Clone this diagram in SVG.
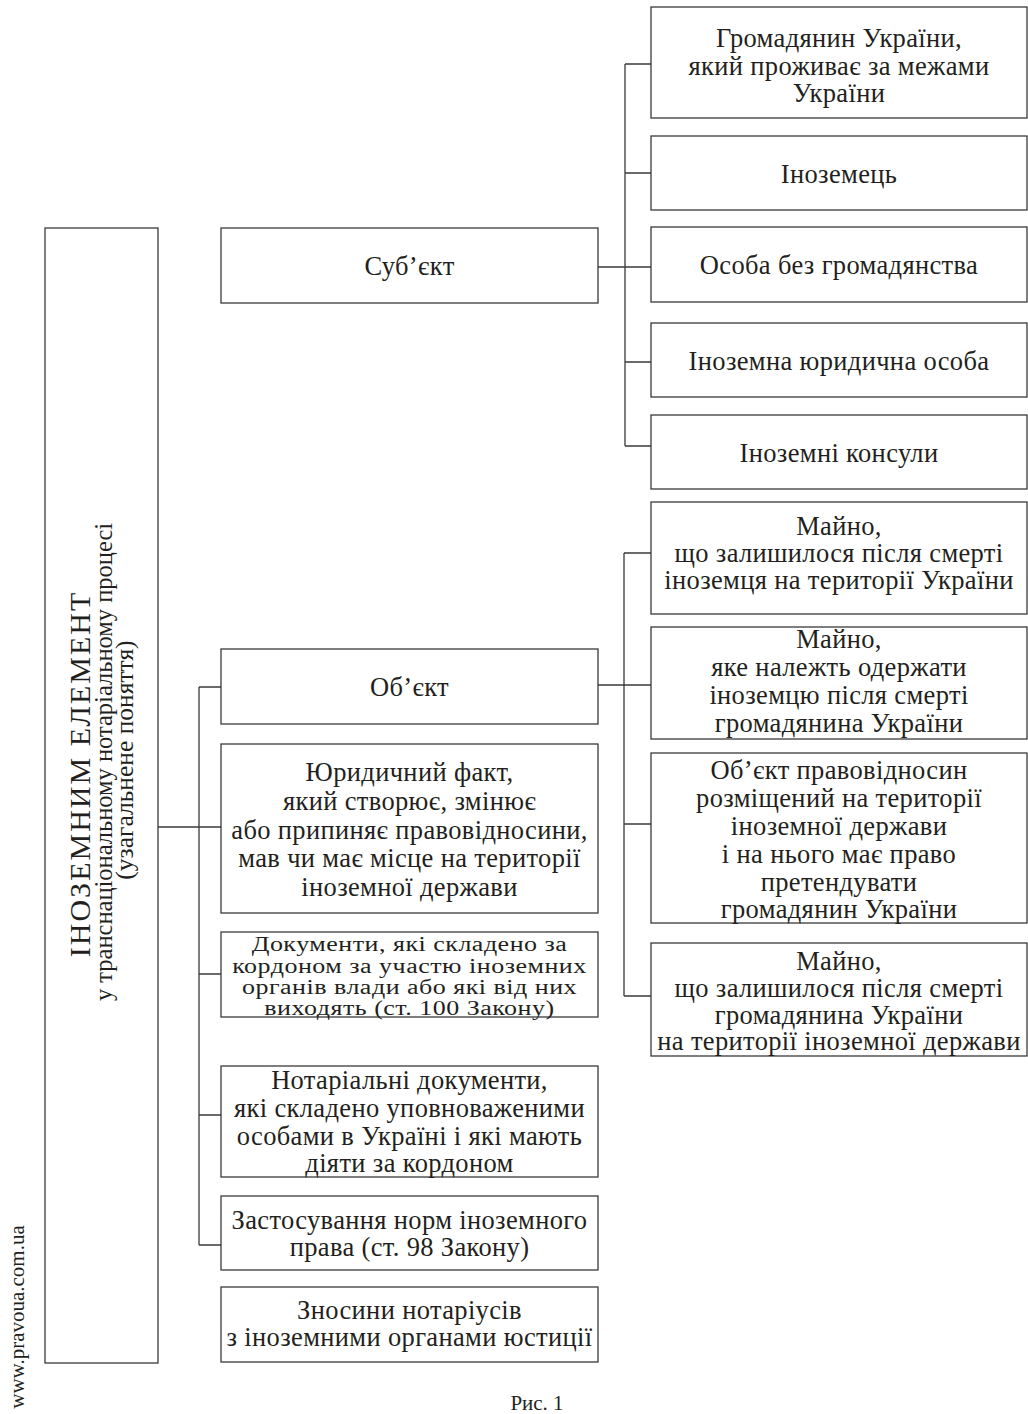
<svg xmlns="http://www.w3.org/2000/svg" width="1028" height="1414" viewBox="0 0 1028 1414">
<style>
.box{fill:#fff;stroke:#3a3a3a;stroke-width:1.3}
.ln{fill:none;stroke:#3a3a3a;stroke-width:1.3}
text{font-family:"Liberation Serif","DejaVu Serif",serif;fill:#231f20;text-anchor:middle}
.t{font-size:26.5px;letter-spacing:0.35px}
.s{font-size:26px;letter-spacing:0.5px}
</style>
<rect width="1028" height="1414" fill="#fff"/>
<g id="connectors">
<path class="ln" d="M598 267H651M625 64V446M625 64H651M625 173H651M625 362H651M625 446H651"/>
<path class="ln" d="M598 685H651M624 553V996M624 553H651M624 824H651M624 996H651"/>
<path class="ln" d="M158 827H221M199 687V1245M199 687H221M199 974H221M199 1115H221M199 1245H221"/>
</g>
<g id="root">
<rect class="box" x="45" y="228" width="113" height="1135"/>
<text transform="translate(90 774) rotate(-90)" font-size="30" letter-spacing="2">ІНОЗЕМНИМ ЕЛЕМЕНТ</text>
<text transform="translate(112 762) rotate(-90)" font-size="24.5">у транснаціональному нотаріальному процесі</text>
<text transform="translate(133 760) rotate(-90)" font-size="25.5">(узагальнене поняття)</text>
</g>
<g id="subject">
<rect class="box" x="221" y="228" width="377" height="75"/>
<text class="t" x="409.5" y="275">Суб’єкт</text>
</g>
<g id="object">
<rect class="box" x="221" y="649" width="377" height="75"/>
<text class="t" x="409.5" y="696">Об’єкт</text>
</g>
<g id="fact">
<rect class="box" x="221" y="744" width="377" height="169"/>
<text class="t" x="409.5" y="781">Юридичний факт,</text>
<text class="t" x="409.5" y="810">який створює, змінює</text>
<text class="t" x="409.5" y="838.5">або припиняє правовідносини,</text>
<text class="t" x="409.5" y="867">мав чи має місце на території</text>
<text class="t" x="409.5" y="896">іноземної держави</text>
</g>
<g id="docs">
<rect class="box" x="221" y="932" width="377" height="85"/>
<text class="s" transform="translate(409.5 951) scale(1 0.82)">Документи, які складено за</text>
<text class="s" transform="translate(409.5 972.5) scale(1 0.82)">кордоном за участю іноземних</text>
<text class="s" transform="translate(409.5 994) scale(1 0.82)">органів влади або які від них</text>
<text class="s" transform="translate(409.5 1014.5) scale(1 0.82)">виходять (ст. 100 Закону)</text>
</g>
<g id="notdocs">
<rect class="box" x="221" y="1066" width="377" height="111"/>
<text class="t" x="409.5" y="1089">Нотаріальні документи,</text>
<text class="t" x="409.5" y="1117">які складено уповноваженими</text>
<text class="t" x="409.5" y="1145">особами в Україні і які мають</text>
<text class="t" x="409.5" y="1172">діяти за кордоном</text>
</g>
<g id="foreignlaw">
<rect class="box" x="221" y="1196" width="377" height="74"/>
<text class="t" x="409.5" y="1229">Застосування норм іноземного</text>
<text class="t" x="409.5" y="1256">права (ст. 98 Закону)</text>
</g>
<g id="relations">
<rect class="box" x="221" y="1287" width="377" height="75"/>
<text class="t" x="409.5" y="1319">Зносини нотаріусів</text>
<text class="t" x="409.5" y="1346">з іноземними органами юстиції</text>
</g>
<g id="s1">
<rect class="box" x="651" y="7" width="376" height="111"/>
<text class="t" x="839" y="47">Громадянин України,</text>
<text class="t" x="839" y="75">який проживає за межами</text>
<text class="t" x="839" y="102">України</text>
</g>
<g id="s2">
<rect class="box" x="651" y="136" width="376" height="74"/>
<text class="t" x="839" y="182.5">Іноземець</text>
</g>
<g id="s3">
<rect class="box" x="651" y="227" width="376" height="75"/>
<text class="t" x="839" y="274">Особа без громадянства</text>
</g>
<g id="s4">
<rect class="box" x="651" y="323" width="376" height="74"/>
<text class="t" x="839" y="369.5">Іноземна юридична особа</text>
</g>
<g id="s5">
<rect class="box" x="651" y="415" width="376" height="74"/>
<text class="t" x="839" y="461.5">Іноземні консули</text>
</g>
<g id="o1">
<rect class="box" x="651" y="502" width="376" height="112"/>
<text class="t" x="839" y="535">Майно,</text>
<text class="t" x="839" y="562">що залишилося після смерті</text>
<text class="t" x="839" y="589">іноземця на території України</text>
</g>
<g id="o2">
<rect class="box" x="651" y="627" width="376" height="112"/>
<text class="t" x="839" y="648">Майно,</text>
<text class="t" x="839" y="676">яке належть одержати</text>
<text class="t" x="839" y="704">іноземцю після смерті</text>
<text class="t" x="839" y="732">громадянина України</text>
</g>
<g id="o3">
<rect class="box" x="651" y="753" width="376" height="170"/>
<text class="t" x="839" y="779">Об’єкт правовідносин</text>
<text class="t" x="839" y="807">розміщений на території</text>
<text class="t" x="839" y="835">іноземної держави</text>
<text class="t" x="839" y="863">і на нього має право</text>
<text class="t" x="839" y="891">претендувати</text>
<text class="t" x="839" y="918">громадянин України</text>
</g>
<g id="o4">
<rect class="box" x="651" y="943" width="376" height="113"/>
<text class="t" x="839" y="970">Майно,</text>
<text class="t" x="839" y="997">що залишилося після смерті</text>
<text class="t" x="839" y="1024">громадянина України</text>
<text class="t" x="839" y="1050">на території іноземної держави</text>
</g>
<text transform="translate(24 1317) rotate(-90)" font-size="21">www.pravoua.com.ua</text>
<text x="537" y="1410" font-size="21">Рис. 1</text>
</svg>
